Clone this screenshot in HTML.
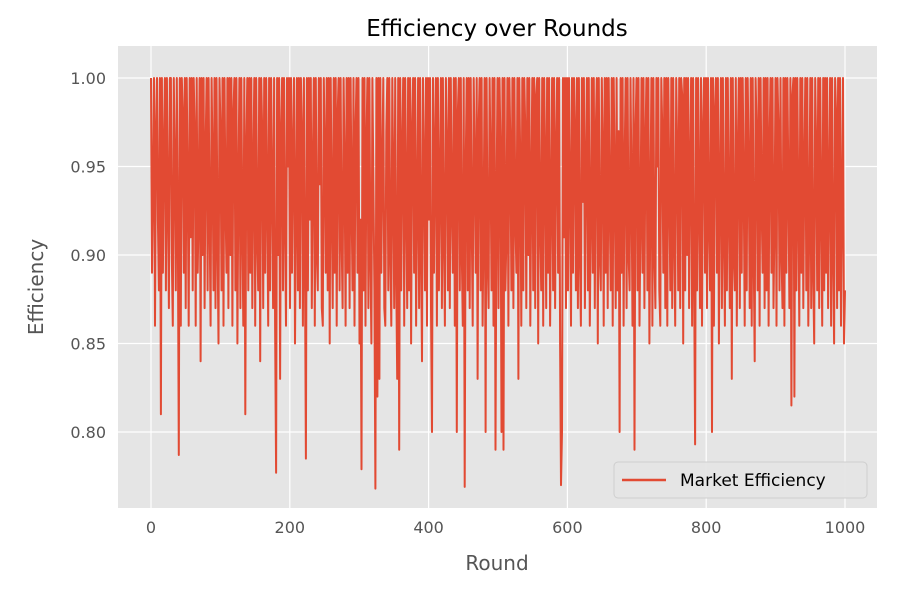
<!DOCTYPE html>
<html><head><meta charset="utf-8">
<style>
body{margin:0;background:#fff;font-family:"Liberation Sans","DejaVu Sans",sans-serif;}
svg text{font-family:"DejaVu Sans","Liberation Sans",sans-serif;}
</style></head>
<body>
<svg id="chart" width="900" height="600">
<rect x="0" y="0" width="900" height="600" fill="#fff"/>
<rect x="118" y="46" width="759" height="462" fill="#E5E5E5"/>
<g id="grid"></g>
<g id="ticks"></g>
<path id="line" fill="none" stroke="#E24A33" stroke-width="2" stroke-linejoin="round"/>
<text x="497" y="45" text-anchor="middle" font-size="23" fill="#000" dy="-9">Efficiency over Rounds</text>
<text x="497" y="570" text-anchor="middle" font-size="20" fill="#555">Round</text>
<text transform="translate(43,287) rotate(-90)" text-anchor="middle" font-size="20" fill="#555">Efficiency</text>
<g>
<rect x="614" y="462" width="253" height="36" rx="4" fill="#E5E5E5" stroke="#ccc" opacity="0.9"/>
<line x1="622" y1="480" x2="666" y2="480" stroke="#E24A33" stroke-width="2.5"/>
<text x="680" y="486" font-size="17" fill="#000">Market Efficiency</text>
</g>
</svg>
<script>
const xTicks=[0,200,400,600,800,1000];
const yTicks=[0.80,0.85,0.90,0.95,1.00];
const yTickLabels=["0.80","0.85","0.90","0.95","1.00"];
const values=[
1,.89,.94,1,.86,.97,1,.92,.88,1,.81,1,.89,.96,1,.88,1,.93,.87,1,
1,.90,.86,1,.95,.88,1,.92,.787,1,.86,1,.98,.89,1,.87,1,.94,.86,1,
.91,1,.88,1,.97,.86,1,.89,.93,1,.84,1,.90,1,.87,.96,1,.88,1,.92,
.86,1,.95,.88,1,.87,1,.91,.85,1,.97,.88,1,.86,1,.93,.89,1,.87,1,
.90,1,.86,.98,1,.88,1,.85,.94,1,.87,1,.92,.86,1,.81,.96,1,.88,1,
.89,1,.87,.95,1,.86,1,.91,.88,1,.84,1,.97,.87,1,.89,1,.93,.86,1,
.88,1,.94,.87,1,.86,.777,1,.90,1,.83,.97,1,.88,1,.92,.86,1,.95,1,
.87,1,.89,.96,1,.85,.93,1,.88,1,.87,1,.97,.86,1,.90,.785,1,.88,1,
.92,1,.87,.95,1,.86,1,.90,.88,1,.94,1,.87,.86,1,.96,.89,1,.88,1,
.85,1,.93,.87,1,.89,1,.86,.98,1,.88,1,.91,.87,1,.95,.86,1,.89,1,
.87,1,.93,.88,1,.86,.97,1,.89,1,.85,.92,.779,1,.88,1,.86,.96,1,.87,
1,.90,.85,1,.94,.88,.768,1,.82,1,.83,1,.89,.95,1,.87,.86,.97,1,.88,
1,.90,.86,1,.94,.87,1,.89,.83,1,.79,1,.88,.96,1,.86,1,.93,.87,1,
.88,1,.85,.97,1,.89,1,.86,.93,1,.87,1,.90,.84,1,.95,.88,1,.86,1,
.92,1,.87,.80,1,.89,.96,1,.86,1,.88,.94,1,.87,1,.91,.86,1,.96,.88,
1,.87,1,.93,.89,1,.86,1,.80,.98,1,.88,1,.90,.86,1,.769,.95,1,.88,
1,.87,1,.92,.86,1,.95,.89,1,.83,.97,1,.88,1,.86,.92,1,.80,1,.90,
.87,1,.95,.88,1,.86,1,.79,.93,1,.87,1,.96,.80,1,.79,1,.88,.91,1,
.86,1,.96,.88,1,.87,1,.92,.89,1,.83,1,.95,.86,1,.88,1,.97,.87,1,
.90,1,.86,.94,1,.88,1,.87,.99,1,.85,1,.92,.88,1,.86,1,.95,.87,1,
.89,1,.86,.93,1,.88,1,.87,.96,1,.89,1,.85,.77,.80,1,.91,1,.87,1,
.88,1,.94,.86,1,.89,1,.97,.88,1,.87,1,.90,.86,1,.93,1,.87,.95,1,
.88,1,.86,.92,1,.89,1,.87,.97,1,.85,1,.90,.88,1,.96,.86,1,.89,1,
.87,1,.93,.88,1,.86,1,.94,.87,1,.88,.97,.80,1,.89,1,.86,.95,1,.87,
1,.90,.88,1,.94,.86,1,.79,.97,1,.88,1,.86,.92,1,.89,1,.87,.96,1,
.88,1,.85,.93,1,.86,1,.90,.87,1,.95,1,.88,.86,1,.97,.89,1,.87,1,
.86,1,.94,.88,1,.87,1,.91,.86,1,.96,.88,1,.87,1,.99,.85,1,.88,1,
.90,1,.87,.95,1,.86,1,.89,.793,1,.88,1,.93,.87,1,.86,.97,1,.89,1,
.87,1,.92,.88,1,.80,1,.86,.98,1,.89,1,.85,.94,1,.87,1,.91,.86,1,
.88,1,.93,.87,1,.83,1,.90,.88,1,.86,.96,1,.87,1,.89,1,.94,.86,1,
.88,1,.95,.87,1,.86,1,.90,.84,1,.97,.88,1,.86,1,.93,.89,1,.87,1,
.88,1,.86,.96,1,.89,1,.87,.92,1,.86,1,.97,.88,1,.90,.87,1,.86,1,
.89,1,.94,.87,1,.815,.99,1,.82,1,.88,1,.93,.86,1,.89,1,.87,.95,1,
.88,1,.86,.92,1,.87,1,.89,.85,1,.96,.88,1,.87,1,.93,.86,1,.88,1,
.89,1,.87,.94,1,.86,1,.90,.85,1,.98,.87,1,.88,1,.86,.93,1,.85,.88
];
const svgNS="http://www.w3.org/2000/svg";
const X0=151,X1=845,Y0=78,Y1=432;
function xs(v){return X0+(v/1000)*(X1-X0);}
function ys(v){return Y0+(1.0-v)/(1.0-0.80)*(Y1-Y0);}
const grid=document.getElementById('grid'),ticks=document.getElementById('ticks');
xTicks.forEach(t=>{
 const l=document.createElementNS(svgNS,'line');
 l.setAttribute('x1',xs(t));l.setAttribute('x2',xs(t));l.setAttribute('y1',46);l.setAttribute('y2',508);
 l.setAttribute('stroke','#fff');l.setAttribute('stroke-width','1.2');
 
 
 grid.appendChild(l);
 const tx=document.createElementNS(svgNS,'text');
 tx.setAttribute('x',xs(t));tx.setAttribute('y',533);tx.setAttribute('text-anchor','middle');
 tx.setAttribute('font-size','16');tx.setAttribute('fill','#555');tx.textContent=t;
 
 
 ticks.appendChild(tx);
});
yTicks.forEach((t,i)=>{
 const l=document.createElementNS(svgNS,'line');
 l.setAttribute('x1',118);l.setAttribute('x2',877);l.setAttribute('y1',ys(t));l.setAttribute('y2',ys(t));
 l.setAttribute('stroke','#fff');l.setAttribute('stroke-width','1.2');
 
 
 grid.appendChild(l);
 const tx=document.createElementNS(svgNS,'text');
 tx.setAttribute('x',106);tx.setAttribute('y',ys(t)+6);tx.setAttribute('text-anchor','end');
 tx.setAttribute('font-size','16');tx.setAttribute('fill','#555');tx.textContent=yTickLabels[i];
 
 
 ticks.appendChild(tx);
});
const n=values.length;
let d='';
values.forEach((v,i)=>{const r=i*1000/(n-1);d+=(i?'L':'M')+xs(r).toFixed(1)+','+ys(v).toFixed(1);});
document.getElementById('line').setAttribute('d',d);
</script>
</body></html>
